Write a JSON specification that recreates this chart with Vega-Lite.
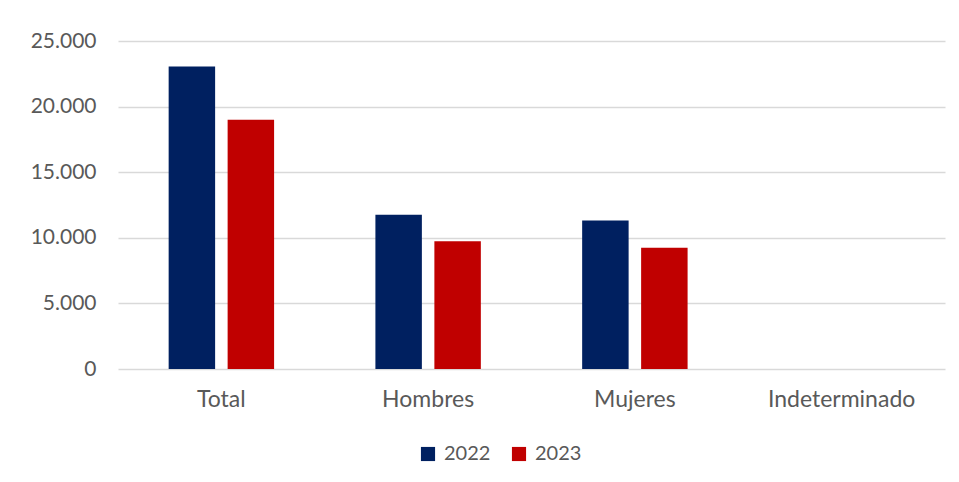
{
  "$schema": "https://vega.github.io/schema/vega-lite/v6.json",
  "width": 827,
  "height": 328,
  "autosize": {"type": "none"},
  "padding": {"left": 118, "top": 41, "right": 14, "bottom": 113},
  "background": "white",
  "config": {
    "locale": {"number": {"decimal": ",", "thousands": ".", "grouping": [3], "currency": ["", " €"]}},
    "view": {"stroke": null},
    "font": "Lato",
    "axis": {"labelFont": "Lato", "labelColor": "#595959", "labelFontSize": 20, "ticks": false, "domain": false},
    "legend": {"labelFont": "Lato", "labelColor": "#595959", "labelFontSize": 20}
  },
  "data": {
    "values": [
      {"categoria": "Total", "anio": "2022", "valor": 23060},
      {"categoria": "Total", "anio": "2023", "valor": 18990},
      {"categoria": "Hombres", "anio": "2022", "valor": 11750},
      {"categoria": "Hombres", "anio": "2023", "valor": 9730},
      {"categoria": "Mujeres", "anio": "2022", "valor": 11310},
      {"categoria": "Mujeres", "anio": "2023", "valor": 9250},
      {"categoria": "Indeterminado", "anio": "2022", "valor": 0},
      {"categoria": "Indeterminado", "anio": "2023", "valor": 0}
    ]
  },
  "mark": {"type": "bar"},
  "encoding": {
    "x": {
      "field": "categoria", "type": "nominal",
      "sort": ["Total", "Hombres", "Mujeres", "Indeterminado"],
      "scale": {"paddingInner": 0.49, "paddingOuter": 0.245},
      "axis": {"title": null, "labelAngle": 0, "labelPadding": 19, "labelFontSize": 23, "grid": false}
    },
    "xOffset": {
      "field": "anio", "type": "nominal",
      "scale": {"paddingInner": 0.212, "paddingOuter": 0}
    },
    "y": {
      "field": "valor", "type": "quantitative",
      "scale": {"domain": [0, 25000], "nice": false},
      "axis": {"title": null, "values": [0, 5000, 10000, 15000, 20000, 25000], "format": ",d", "grid": true, "gridColor": "#d9d9d9", "gridWidth": 1.3, "labelPadding": 22, "labelFontSize": 21}
    },
    "color": {
      "field": "anio", "type": "nominal",
      "scale": {"domain": ["2022", "2023"], "range": ["#002060", "#C00000"]},
      "legend": {"title": null, "orient": "none", "direction": "horizontal", "legendX": 300, "legendY": 403, "symbolType": "square", "symbolSize": 200, "symbolStrokeWidth": 0, "columnPadding": 18, "labelOffset": 6}
    }
  }
}
